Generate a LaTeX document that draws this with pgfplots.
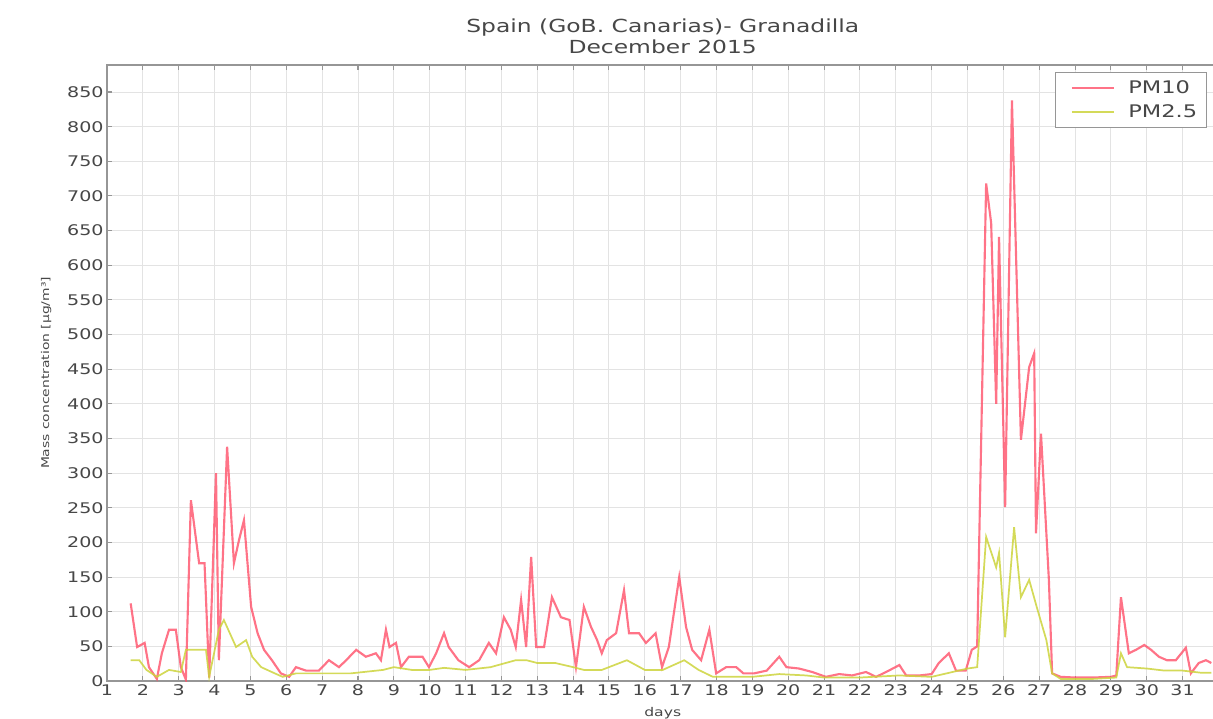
\documentclass[border=0pt]{standalone}
\usepackage{pgfplots}
\pgfplotsset{compat=1.18}
\usepackage{fontspec}
\setmainfont{DejaVu Sans}[FakeStretch=1.3]
\definecolor{pmten}{RGB}{255,80,105}
\definecolor{pmtwo}{RGB}{205,212,60}
\definecolor{frame}{RGB}{150,150,150}
\begin{document}
\begin{tikzpicture}[x=1pt,y=1pt]
\path[use as bounding box] (0,0) rectangle (909.75pt,538.5pt);
\begin{axis}[
  at={(80.25pt,27.75pt)}, anchor=south west,
  scale only axis, width=833.6pt, height=462pt,
  xmin=1, xmax=32, ymin=0, ymax=889,
  xtick={1,...,31}, ytick={0,50,...,850},
  /pgf/number format/assume math mode=true,
  tick label style={font=\fontsize{11}{13}\selectfont, color=black!72},
  xticklabel style={yshift=1pt},
  yticklabel style={xshift=1pt},
  tick style={frame, line width=0.8pt},
  major tick length=4pt,
  tick align=inside,
  grid=major,
  grid style={gray!22, line width=0.7pt},
  axis line style={frame, line width=1.4pt},
  title={Spain (GoB. Canarias)- Granadilla\\December 2015},
  title style={align=center, font=\fontsize{13.5}{15.5}\selectfont, color=black!72, yshift=-1pt},
  xlabel={days},
  xlabel style={font=\fontsize{9}{10}\selectfont, color=black!72, yshift=-2pt},
  ylabel={Mass concentration [µg/m³]},
  ylabel style={font=\fontsize{8}{10}\selectfont, color=black!72, yshift=5pt},
  legend style={at={(0.99,0.989)}, anchor=north east, draw=frame, line width=1.2pt,
    font=\fontsize{13}{15}\selectfont, text=black!72, inner xsep=5pt, inner ysep=4pt, row sep=3pt,
    legend cell align=left, /tikz/every odd column/.append style={column sep=8pt}},
  legend image code/.code={\path (0pt,0pt) (38pt,0pt); \draw[#1] plot coordinates {(6.5pt,0pt) (22pt,0pt) (38pt,0pt)};},
]
\addplot[pmten, line width=1.6pt, opacity=0.8] coordinates {
(1.66,112)(1.84,49)(2.05,55)(2.17,20)(2.39,3)(2.53,40)(2.73,74)(2.92,74)(3.06,20)(3.20,2)
(3.34,261)(3.57,170)(3.72,170)(3.76,120)(3.85,5)(4.04,300)(4.12,30)(4.35,338)(4.54,170)(4.68,203)
(4.82,232)(5.02,107)(5.20,69)(5.38,45)(5.60,30)(5.85,11)(6.08,6)(6.27,20)(6.55,15)(6.91,15)
(7.19,30)(7.47,20)(7.67,30)(7.95,45)(8.22,35)(8.50,40)(8.64,30)(8.78,74)(8.88,49)(9.06,55)
(9.20,20)(9.42,35)(9.80,35)(9.98,20)(10.18,40)(10.40,69)(10.53,49)(10.80,30)(11.10,20)(11.38,30)
(11.65,55)(11.85,40)(12.07,92)(12.26,74)(12.40,49)(12.55,117)(12.69,49)(12.83,179)(12.97,49)(13.19,49)
(13.41,121)(13.66,92)(13.90,88)(14.08,20)(14.30,107)(14.50,78)(14.67,59)(14.80,40)(14.94,59)(15.20,69)
(15.42,131)(15.56,69)(15.84,69)(16.03,55)(16.30,69)(16.48,20)(16.67,49)(16.96,150)(17.15,78)(17.32,45)
(17.57,30)(17.80,74)(17.99,11)(18.27,20)(18.55,20)(18.75,11)(19.05,11)(19.40,15)(19.75,35)(19.95,20)
(20.30,18)(20.67,13)(21.05,6)(21.42,10)(21.78,8)(22.17,13)(22.45,6)(22.73,13)(23.10,23)(23.29,8)
(23.66,8)(24.00,10)(24.20,26)(24.48,40)(24.68,15)(24.95,15)(25.12,45)(25.27,50)(25.52,718)(25.66,661)
(25.80,400)(25.88,641)(26.05,251)(26.24,838)(26.49,348)(26.72,453)(26.86,473)(26.91,213)(27.05,357)(27.27,146)
(27.36,11)(27.60,6)(28.00,5)(28.50,5)(29.00,6)(29.15,8)(29.28,121)(29.50,40)(29.70,45)(29.93,52)
(30.12,45)(30.34,35)(30.56,30)(30.81,30)(31.09,48)(31.23,11)(31.45,26)(31.65,30)(31.80,26)
};
\addlegendentry{PM10}
\addplot[pmtwo, line width=1.3pt, opacity=0.85] coordinates {
(1.66,30)(1.90,30)(2.10,16)(2.39,6)(2.73,16)(3.06,13)(3.20,45)(3.50,45)(3.76,45)(3.85,6)
(4.12,74)(4.26,88)(4.60,49)(4.88,59)(5.05,35)(5.30,20)(5.68,11)(5.90,6)(6.27,11)(7.00,11)
(7.80,11)(8.70,16)(9.00,20)(9.50,16)(10.00,16)(10.40,19)(11.00,16)(11.70,20)(12.40,30)(12.70,30)
(13.00,26)(13.50,26)(14.00,20)(14.30,16)(14.80,16)(15.50,30)(16.00,16)(16.50,16)(17.10,30)(17.50,16)
(17.90,6)(18.50,6)(19.00,6)(19.75,10)(20.50,8)(21.00,5)(22.00,5)(23.10,8)(24.00,6)(24.50,12)
(25.00,18)(25.27,20)(25.52,208)(25.80,164)(25.88,185)(26.05,63)(26.30,222)(26.49,121)(26.72,146)(26.93,107)
(27.20,59)(27.36,11)(27.60,3)(28.50,3)(29.15,5)(29.28,40)(29.45,20)(30.00,18)(30.50,15)(31.00,15)
(31.50,12)(31.80,12)
};
\addlegendentry{PM2.5}
\end{axis}
\end{tikzpicture}
\end{document}
